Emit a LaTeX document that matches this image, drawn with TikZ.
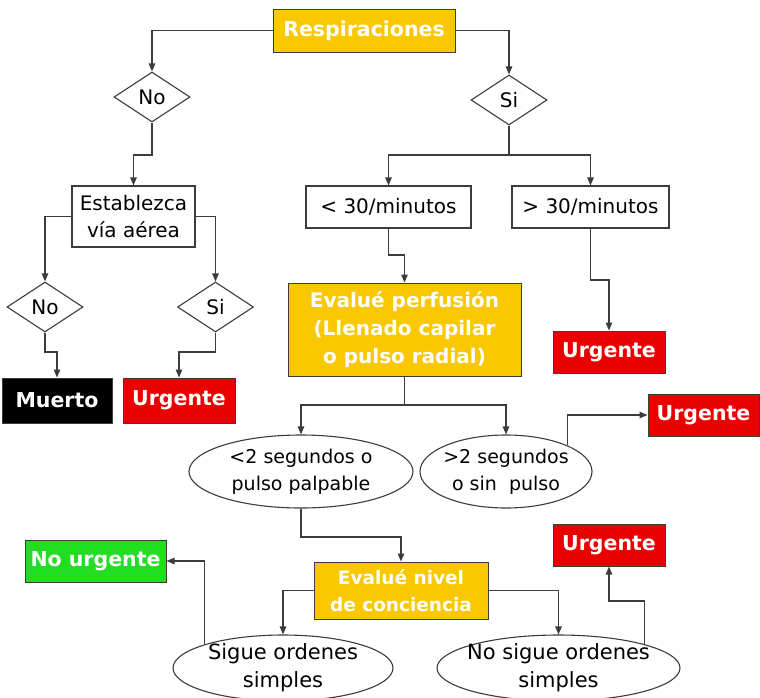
\documentclass[tikz,border=0pt]{standalone}
\usepackage{fontspec}
\setmainfont{DejaVu Sans}
\usetikzlibrary{shapes.geometric,arrows.meta}
\definecolor{gold}{RGB}{250,200,0}
\definecolor{alarm}{RGB}{235,0,0}
\definecolor{okgreen}{RGB}{34,221,34}
\definecolor{edge}{RGB}{60,60,60}
\begin{document}
\begin{tikzpicture}[x=1pt,y=-1pt,
  line/.style={draw=edge, line width=1.1pt},
  arr/.style={line, -{Triangle[length=8pt,width=6.5pt]}},
  plain/.style={draw=edge, line width=1.1pt, fill=white, inner sep=0pt, align=center, font=\fontsize{20}{27}\selectfont},
  rbox/.style={plain, rectangle},
  dia/.style={plain, diamond, aspect=1.5, minimum width=76pt, minimum height=50pt},
  ell/.style={plain, ellipse, inner sep=-10pt},
  tag/.style={rectangle, draw=edge, line width=1pt, inner sep=0pt, text=white, align=center, font=\bfseries\fontsize{20.5}{28}\selectfont},
]
\useasboundingbox (0,0) rectangle (760,697);
\fill[white] (0,0) rectangle (760,697);

% nodes
\node[tag, fill=gold, minimum width=182pt, minimum height=43pt] (resp) at (364,30.5) {Respiraciones};
\node[dia] (no1) at (152,97) {No};
\node[dia] (si1) at (509,100) {Si};
\node[rbox, minimum width=123pt, minimum height=61pt] (est) at (133.5,216.5) {Establezca\\vía aérea};
\node[dia] (no2) at (45,307) {No};
\node[dia] (si2) at (215.5,307) {Si};
\node[tag, fill=black, minimum width=110pt, minimum height=45pt] (muerto) at (57,400.5) {Muerto};
\node[tag, fill=alarm, minimum width=112pt, minimum height=45pt] (urg1) at (179,400.5) {Urgente};
\node[rbox, minimum width=165pt, minimum height=42pt] (lt30) at (388.5,207) {< 30/minutos};
\node[rbox, minimum width=157pt, minimum height=42pt] (gt30) at (590.5,207) {> 30/minutos};
\node[tag, fill=gold, minimum width=233pt, minimum height=93pt, font=\bfseries\fontsize{20}{28}\selectfont] (perf) at (404.5,329.5) {Evalué perfusión\\(Llenado capilar\\o pulso radial)};
\node[tag, fill=alarm, minimum width=112pt, minimum height=42pt] (urg2) at (609,352) {Urgente};
\node[ell, minimum width=224pt, minimum height=73pt, font=\fontsize{19}{27}\selectfont] (e1) at (301,471.5) {<2 segundos o\\pulso palpable};
\node[ell, minimum width=172pt, minimum height=73pt, font=\fontsize{19}{27}\selectfont] (e2) at (506,471.5) {>2 segundos\\o sin\ \ pulso};
\node[tag, fill=alarm, minimum width=111pt, minimum height=42pt] (urg3) at (703.5,415) {Urgente};
\node[tag, fill=okgreen, minimum width=141pt, minimum height=42pt] (nourg) at (95.5,561) {No urgente};
\node[tag, fill=gold, minimum width=174pt, minimum height=57pt, font=\bfseries\fontsize{18.5}{27}\selectfont] (niv) at (401,590.5) {Evalué nivel\\de conciencia};
\node[tag, fill=alarm, minimum width=112pt, minimum height=42pt] (urg4) at (609,545) {Urgente};
\node[ell, minimum width=220pt, minimum height=66pt, font=\fontsize{21}{28}\selectfont] (e3) at (283,668) {Sigue ordenes\\simples};
\node[ell, minimum width=243pt, minimum height=66pt, font=\fontsize{21}{28}\selectfont] (e4) at (558.5,668) {No sigue ordenes\\simples};

% junction levels
\coordinate (j1) at (0,155);
\coordinate (j2) at (0,352);
\coordinate (j4) at (0,255);
\coordinate (j5) at (0,280);
\coordinate (j6) at (0,405);
\coordinate (j7) at (0,537);
\coordinate (j8) at (0,601);

% connectors
\draw[arr] (resp.west) -| (no1.north);
\draw[arr] (resp.east) -| (si1.north);
\draw[arr] (no1.south) -- (no1.south |- j1) -| (est.north);
\draw[arr] (est.west) -| (no2.north);
\draw[arr] (est.east) -| (si2.north);
\draw[arr] (no2.south) -- (no2.south |- j2) -| (muerto.north);
\draw[arr] (si2.south) -- (si2.south |- j2) -| (urg1.north);
\draw[line] (si1.south) -- (si1.south |- j1);
\draw[arr] (si1.south |- j1) -| (lt30.north);
\draw[arr] (si1.south |- j1) -| (gt30.north);
\draw[arr] (lt30.south) -- (lt30.south |- j4) -| (perf.north);
\draw[arr] (gt30.south) -- (gt30.south |- j5) -| (urg2.north);
\draw[line] (perf.south) -- (perf.south |- j6);
\draw[arr] (perf.south |- j6) -| (e1.north);
\draw[arr] (perf.south |- j6) -| (e2.north);
\draw[arr] (e2.north east) |- (urg3.west);
\draw[arr] (e1.south) -- (e1.south |- j7) -| (niv.north);
\draw[arr] (niv.west) -| (e3.north);
\draw[arr] (niv.east) -| (e4.north);
\draw[arr] (e3.north west) |- (nourg.east);
\draw[arr] (e4.north east) -- (e4.north east |- j8) -| (urg4.south);
\end{tikzpicture}
\end{document}
